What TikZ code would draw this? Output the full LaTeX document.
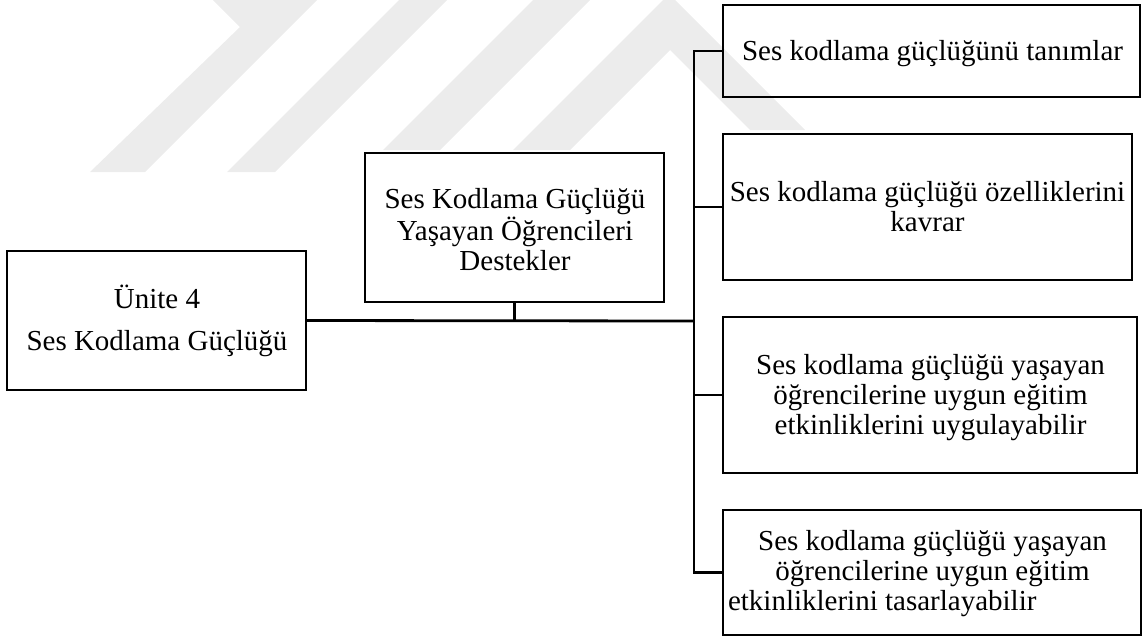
\documentclass[tikz,border=0pt]{standalone}
\usepackage{fontspec}
\setmainfont{Liberation Serif}
\usetikzlibrary{calc}

\definecolor{wmark}{RGB}{236,236,236}

\tikzset{
  box/.style={draw, line width=1.6pt, inner sep=0pt, outer sep=0pt},
  label/.style={inner sep=0pt, outer sep=0pt, anchor=base,
                font=\fontsize{21.75pt}{22.5pt}\selectfont},
  wire/.style={line width=2.1pt, line join=miter},
}

\begin{document}
\begin{tikzpicture}[x=0.75pt, y=-0.75pt]
  \useasboundingbox (0,0) rectangle (1142,637);

  % faint background chevrons
  \begin{scope}
    \clip (0,0) rectangle (1142,637);
    \fill[wmark] (213,0) -- (240,27) -- (90,172) -- (145,172) -- (317,0) -- cycle;
    \fill[wmark] (227,172) -- (275,172) -- (447,0) -- (399,0) -- cycle;
    \fill[wmark] (383,150) -- (440,150) -- (590,0) -- (533,0) -- cycle;
    \fill[wmark] (513,150) -- (663,0) -- (675,0) -- (805,130) -- (750,130)
                 -- (670,50) -- (570,150) -- cycle;
  \end{scope}

  % boxes
  \node[box, minimum width=299*0.75pt, minimum height=139*0.75pt] (unit) at (156.5,320.5) {};
  \node[box, minimum width=299*0.75pt, minimum height=149*0.75pt] (goal) at (514.5,227.5) {};
  \node[box, minimum width=417*0.75pt, minimum height=92*0.75pt]  (r1) at (931.5,51) {};
  \node[box, minimum width=409*0.75pt, minimum height=146*0.75pt] (r2) at (927.5,207) {};
  \node[box, minimum width=414*0.75pt, minimum height=156*0.75pt] (r3) at (930,395) {};
  \node[box, minimum width=418*0.75pt, minimum height=125*0.75pt] (r4) at (932,572.5) {};

  % texts
  \node[label] (tunit) at (157,308) {\begin{tabular}[t]{@{}c@{}}Ünite 4\\[9pt] Ses Kodlama Güçlüğü\end{tabular}};
  \node[label] (tgoal) at (515,208) {\begin{tabular}[t]{@{}c@{}}Ses Kodlama Güçlüğü\\ Yaşayan Öğrencileri\\ Destekler\end{tabular}};
  \node[label] (tr1) at (932.5,60) {Ses kodlama güçlüğünü tanımlar};
  \node[label] (tr2) at (927.5,201) {\begin{tabular}[t]{@{}c@{}}Ses kodlama güçlüğü özelliklerini\\ kavrar\end{tabular}};
  \node[label] (tr3) at (930.5,374) {\begin{tabular}[t]{@{}c@{}}Ses kodlama güçlüğü yaşayan\\ öğrencilerine uygun eğitim\\ etkinliklerini uygulayabilir\end{tabular}};
  \node[label] (tr4) at (932.5,550) {\begin{tabular}[t]{@{}c@{}}Ses kodlama güçlüğü yaşayan\\ öğrencilerine uygun eğitim\end{tabular}};
  \node[label, anchor=base west] (tr4b) at (728,610) {etkinliklerini tasarlayabilir};

  % connectors
  \coordinate (bus) at (694,321);
  \draw[wire] (unit.east) -- (bus);
  \draw[wire] (goal.south) -- (goal.south |- bus);
  \draw[wire] (r1.west) -- (r1.west -| bus) -- (r4.west -| bus) -- (r4.west);
  \draw[wire] (r2.west) -- (r2.west -| bus);
  \draw[wire] (r3.west) -- (r3.west -| bus);
\end{tikzpicture}
\end{document}
